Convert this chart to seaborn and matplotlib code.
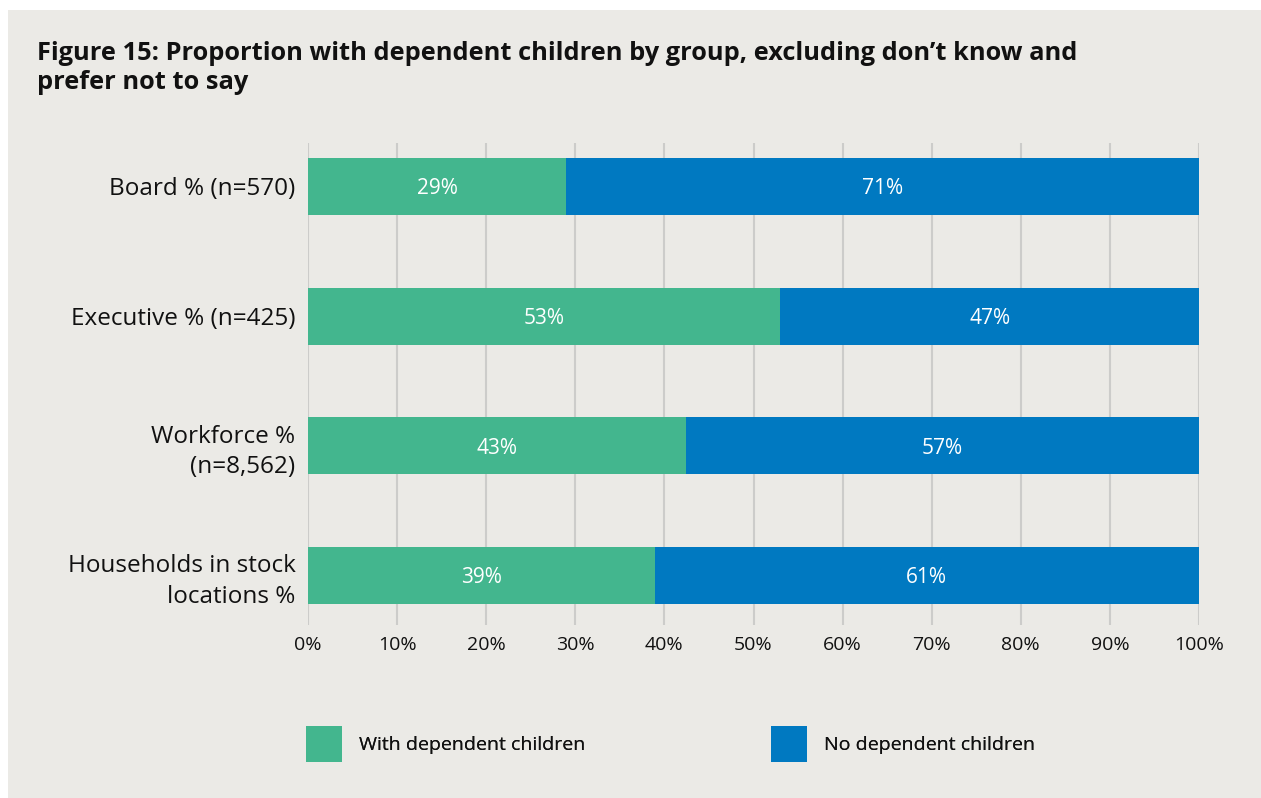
import matplotlib
matplotlib.use("Agg")
import matplotlib.pyplot as plt
import seaborn as sns
import pandas as pd
from matplotlib.patches import Patch, Rectangle

categories = ["Board % (n=570)", "Executive % (n=425)", "Workforce %\n(n=8,562)", "Households in stock\nlocations %"]
with_children = [29.0, 53.0, 42.4, 38.9]
no_children = [71.0, 47.0, 57.6, 61.1]
with_labels = ["29%", "53%", "43%", "39%"]
no_labels = ["71%", "47%", "57%", "61%"]
x_ticks = [0, 10, 20, 30, 40, 50, 60, 70, 80, 90, 100]
x_ticklabels = ["0%", "10%", "20%", "30%", "40%", "50%", "60%", "70%", "80%", "90%", "100%"]
title = "Figure 15: Proportion with dependent children by group, excluding don\u2019t know and\nprefer not to say"
legend_labels = ["With dependent children", "No dependent children"]

GREEN = "#43B68E"
BLUE = "#0079C1"
BG = "#EBEAE6"
GRID = "#CCCCCA"

sns.set_theme(style="white")
plt.rcParams["font.family"] = ["Open Sans", "DejaVu Sans"]

W, H = 1261, 798
fig = plt.figure(figsize=(W / 100, H / 100), dpi=100, facecolor="white")
fig.add_artist(Rectangle((8 / W, 0), 1 - 8 / W, 1 - 10 / H, transform=fig.transFigure,
                         facecolor=BG, edgecolor="none", zorder=-10))

ax = fig.add_axes([308 / W, 1 - 625 / H, (1199 - 308) / W, (625 - 143) / H])
ax.set_facecolor(BG)

df = pd.DataFrame({"cat": categories, "with": with_children, "no": no_children})
df["total"] = df["with"] + df["no"]

sns.barplot(data=df, x="total", y="cat", orient="h", color=BLUE, width=0.44,
            saturation=1, ax=ax, zorder=3, linewidth=0, edgecolor="none")
sns.barplot(data=df, x="with", y="cat", orient="h", color=GREEN, width=0.44,
            saturation=1, ax=ax, zorder=4, linewidth=0, edgecolor="none")

for i, (w, n) in enumerate(zip(with_children, no_children)):
    ax.text(w / 2, i, with_labels[i], ha="center", va="center_baseline", color="white",
            fontsize=15, zorder=5)
    ax.text(w + n / 2, i, no_labels[i], ha="center", va="center_baseline", color="white",
            fontsize=15, zorder=5)

ax.set_xlim(0, 100)
ax.set_ylim(3.382, -0.335)
ax.set_xticks(x_ticks)
ax.set_xticklabels(x_ticklabels, fontsize=14, color="#111111")
ax.tick_params(axis="x", length=0, pad=8)
ax.tick_params(axis="y", length=0, pad=9)
ax.set_yticks(range(len(categories)))
ax.set_yticklabels(categories, fontsize=17.5, color="#111111")
for t in ax.get_yticklabels():
    t.set_multialignment("right")
    t.set_linespacing(1.35)
ax.set_xlabel("")
ax.set_ylabel("")
ax.grid(axis="x", color=GRID, linewidth=1.5, zorder=0)
ax.set_axisbelow(True)
for s in ax.spines.values():
    s.set_visible(False)

fig.text(37 / W, 1 - 41 / H, title, ha="left", va="top", fontsize=18.3,
         fontweight="bold", color="#111111", linespacing=1.2)

handles = [Patch(facecolor=GREEN, edgecolor="none"), Patch(facecolor=BLUE, edgecolor="none")]
xs = [306, 771]
for h, lab, x in zip(handles, legend_labels, xs):
    leg = fig.legend(handles=[h], labels=[lab], loc="center left",
                     bbox_to_anchor=(x / W, 1 - 744 / H), frameon=False,
                     fontsize=14, handlelength=1.85, handleheight=2.4,
                     handletextpad=0.9, borderpad=0, borderaxespad=0)
    for t in leg.get_texts():
        t.set_color("#111111")
    fig.add_artist(leg)

fig.savefig("out.png", dpi=100, facecolor="white")
